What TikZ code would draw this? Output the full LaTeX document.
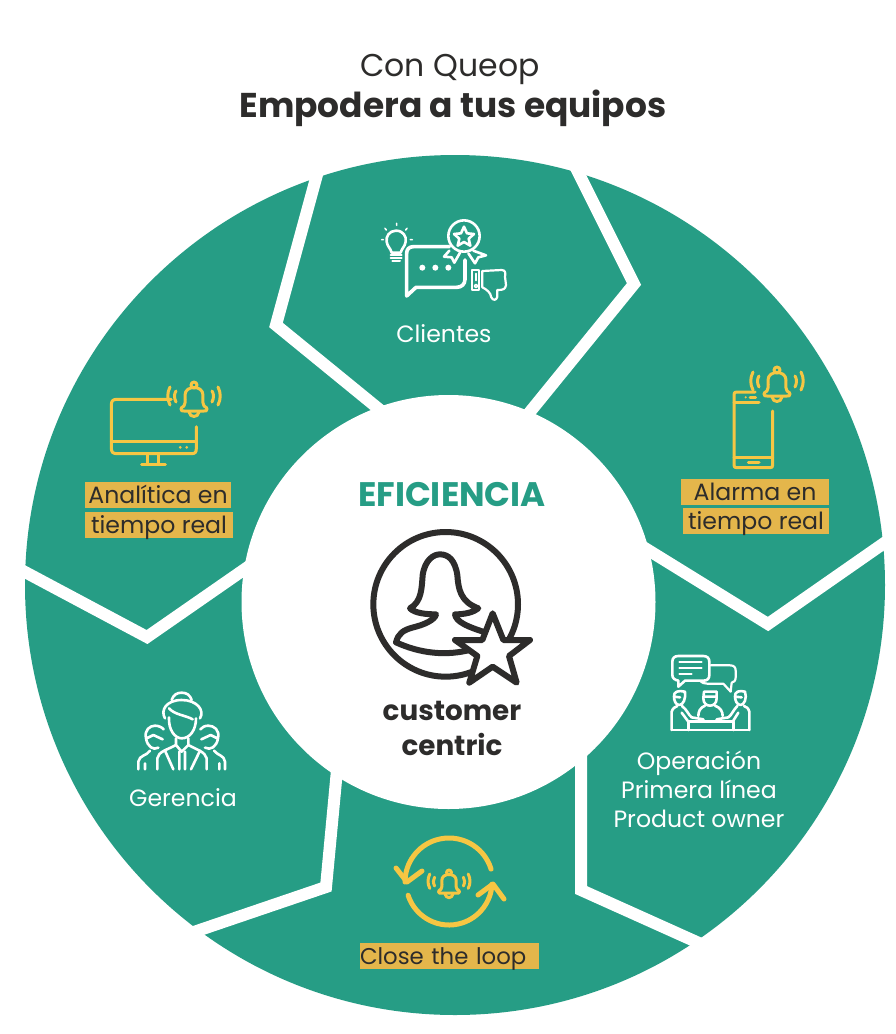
\documentclass[tikz,border=0pt]{standalone}
\usepackage{fontspec}
\setmainfont{Poppins}
\definecolor{verde}{HTML}{269D85}
\definecolor{amarillo}{HTML}{F6C643}
\definecolor{fondo}{HTML}{E4B64B}
\definecolor{oscuro}{HTML}{2D2C2B}
\tikzset{
  linea/.style={draw=white,line width=2.6pt,line cap=round,line join=round},
  lineaam/.style={draw=amarillo,line width=3pt,line cap=round,line join=round},
  divide/.style={draw=white,line width=12pt,line join=miter},
  blanco/.style={text=white,font=\fontsize{23.6}{29}\selectfont,align=center},
  alerta/.style={fill=fondo,text=oscuro,font=\fontsize{23.6}{24}\selectfont,inner sep=0pt,text height=21pt,text depth=5pt,anchor=north},
  pics/campana/.style={code={
    \draw[lineaam] (0,3) circle (3);
    \draw[lineaam] (-10,24) .. controls (-8,20) and (-9,15) .. (-9,13) .. controls (-9,3) and (9,3) .. (9,13) .. controls (9,15) and (8,20) .. (10,24);
    \draw[lineaam] (-10,24) .. controls (-12,25) and (-13,26) .. (-13,27) .. controls (-13,29) and (-12,29) .. (-10,29) -- (10,29) .. controls (12,29) and (13,29) .. (13,27) .. controls (13,26) and (12,25) .. (10,24);
    \draw[lineaam] (-5,30) .. controls (-4,36) and (4,36) .. (5,30);
    \draw[lineaam] (-18,9) .. controls (-20,12) and (-20,16) .. (-18,20);
    \draw[lineaam] (18,9) .. controls (20,12) and (20,16) .. (18,20);
    \draw[lineaam] (-24,5) .. controls (-27,11) and (-27,17) .. (-24,23);
    \draw[lineaam] (24,5) .. controls (27,11) and (27,17) .. (24,23);
  }}
}
\begin{document}
\begin{tikzpicture}[x=1pt,y=-1pt]
\useasboundingbox (0,0) rectangle (896,1034);
\fill[white] (0,0) rectangle (896,1034);
% disco
\fill[verde] (455,585) circle (430);
\draw[divide] (321,160)--(276,325)--(385,414);
\draw[divide] (572,160)--(634,284)--(525,418);
\draw[divide] (640,545)--(768,624)--(900,532);
\draw[divide] (10,564)--(147,637)--(255,562);
\draw[divide] (337,770)--(326,887)--(185,935);
\draw[divide] (581,750)--(581,890)--(710,948);
\fill[white] (448.5,602) circle (207);
% titulo
\node[text=oscuro,font=\fontsize{31.5}{36}\selectfont] (titulo) at (450,69) {Con Queop};
\node[text=oscuro,font=\fontsize{34.4}{40}\selectfont\bfseries] (lema) at (453,108) {Empodera a tus equipos};
% clientes
\begin{scope}[shift={(360,210)},scale=1/3]
  \draw[linea] (108,62) .. controls (130,62) and (140,80) .. (137,95) .. controls (135,110) and (125,115) .. (122,128) -- (95,128) .. controls (92,115) and (82,110) .. (80,95) .. controls (77,80) and (88,62) .. (108,62);
  \draw[linea,line width=2pt] (92,135)--(125,135) (92,143)--(125,143) (97,152)--(120,152);
  \draw[linea,line width=1.6pt] (110,40)--(110,46) (75,55)--(79,60) (141,55)--(137,60) (65,89)--(70,89) (151,89)--(157,89);
  \draw[linea,line width=3.6pt] (268,110)--(160,110) .. controls (147,110) and (140,118) .. (140,130)--(140,258)--(168,232)--(290,232) .. controls (305,232) and (315,222) .. (315,208)--(315,150);
  \fill[white] (187,173) circle (9) (226,173) circle (9) (265,173) circle (9);
  \draw[linea] (312,78) circle (47);
  \draw[linea] (312,50)--(321,70)--(342,72)--(326,86)--(331,107)--(312,96)--(293,107)--(298,86)--(282,72)--(303,70)--cycle;
  \draw[linea] (268,122)--(252,140)--(275,142)--(283,158)--(300,128);
  \draw[linea] (340,122)--(378,136)--(355,142)--(345,160)--(325,130);
  \draw[linea,line width=2pt] (337,180) rectangle (358,240);
  \draw[linea,line width=1.6pt] (348,228) circle (5) (348,190)--(348,212);
  \draw[linea,line width=2.2pt] (367,183)--(425,180) .. controls (437,180) and (437,190) .. (435,200) -- (438,225) .. controls (436,238) and (430,240) .. (412,240)--(412,260) .. controls (410,272) and (398,272) .. (394,262) .. controls (392,248) and (380,238) .. (367,232)--cycle;
\end{scope}
\node[blanco] (clientes) at (444,334) {Clientes};
% analitica
\begin{scope}[shift={(90,370)},scale=1/3]
  \draw[lineaam] (244,88)--(80,88) .. controls (69,88) and (64,93) .. (64,104)--(64,235) .. controls (64,246) and (69,251) .. (80,251)--(305,251) .. controls (316,251) and (319,246) .. (319,235)--(319,170);
  \draw[lineaam] (64,213)--(319,213);
  \fill[amarillo] (271,232) circle (4.5) (290,232) circle (4.5);
  \draw[lineaam] (172,252)--(172,282) (204,252)--(204,282) (155,283)--(226,283);
\end{scope}
\pic at (194,382) {campana};
\node[alerta,minimum width=146pt] (analitica) at (158,482) {Analítica en};
\node[alerta,minimum width=148pt] (analiticados) at (159,512) {tiempo real};
% alarma
\begin{scope}[shift={(710,355)},scale=1/3]
  \draw[lineaam] (135,111)--(80,111) .. controls (74,111) and (72,113) .. (72,119)--(72,330) .. controls (72,336) and (74,338) .. (80,338)--(180,338) .. controls (186,338) and (188,336) .. (188,330)--(188,168);
  \draw[lineaam] (72,143)--(147,143) (72,306)--(188,306) (115,321)--(147,321) (120,127)--(137,127);
  \fill[amarillo] (107,127) circle (3.5);
\end{scope}
\pic at (777,367) {campana};
\node[alerta,minimum width=148pt] (alarma) at (755,479) {Alarma en};
\node[alerta,minimum width=146pt] (alarmados) at (756,508) {tiempo real};
% centro
\node[text=verde,font=\fontsize{34}{40}\selectfont\bfseries] (eficiencia) at (452,495) {EFICIENCIA};
\begin{scope}[shift={(360,525)},scale=1/3]
  \draw[oscuro,line width=6pt] (257,238) circle (217);
  \draw[oscuro,line width=6pt,line join=round,fill=white] (108,352) .. controls (115,325) and (130,315) .. (160,307) .. controls (190,300) and (225,285) .. (228,268) .. controls (200,268) and (165,265) .. (150,250) .. controls (185,230) and (185,190) .. (188,150) .. controls (195,105) and (220,88) .. (240,88) .. controls (265,88) and (285,105) .. (292,150) .. controls (295,190) and (300,230) .. (355,250) .. controls (340,262) and (315,268) .. (285,268) .. controls (288,290) and (320,305) .. (385,325) -- (385,360) -- (340,372) .. controls (260,395) and (180,385) .. (108,352) -- cycle;
  \fill[white] (345,345) -- (410,330) -- (410,400) -- (345,400) -- cycle;
  \draw[oscuro,line width=6pt,line join=round,fill=white] (398,265)--(430,345)--(510,345)--(447,393)--(470,473)--(398,425)--(328,473)--(352,393)--(285,345)--(367,345)--cycle;
\end{scope}
\node[text=oscuro,font=\fontsize{27.8}{35}\selectfont\bfseries,align=center] (centrico) at (452,728) {customer\\centric};
% operacion
\begin{scope}[shift={(650,640)},scale=1/3]
  \draw[linea] (85,48)--(160,48) .. controls (172,48) and (178,55) .. (178,65)--(178,105) .. controls (178,116) and (172,122) .. (160,122)--(105,122)--(85,140)--(85,122) .. controls (75,120) and (67,115) .. (67,105)--(67,65) .. controls (67,55) and (73,48) .. (85,48);
  \draw[linea,line width=2pt] (88,67)--(155,67) (88,85)--(155,85) (88,103)--(125,103);
  \draw[linea,line width=2.2pt] (182,76)--(240,76) .. controls (252,76) and (257,82) .. (257,92)--(257,112) .. controls (257,122) and (252,127) .. (245,128)--(242,155)--(220,131)--(172,131) .. controls (162,131) and (155,128) .. (152,124);
  \begin{scope}[line width=2.4pt]
  \draw[linea] (72,170) .. controls (70,155) and (85,150) .. (105,155) .. controls (108,175) and (100,195) .. (88,195) .. controls (76,195) and (72,180) .. (72,170) (72,170)--(90,172);
  \draw[linea] (65,270)--(65,215) .. controls (68,205) and (75,200) .. (82,198) (96,198) .. controls (112,210) and (115,225) .. (125,232)--(160,238)--(160,245) (95,218)--(115,245);
  \draw[linea] (162,155)--(200,155)--(200,175) .. controls (200,190) and (190,197) .. (180,197) .. controls (170,197) and (160,190) .. (160,175)--cycle (160,170)--(200,170);
  \draw[linea] (165,197) .. controls (150,203) and (145,215) .. (145,228) (195,197) .. controls (212,203) and (218,215) .. (218,228);
  \draw[linea] (255,170) .. controls (253,155) and (268,150) .. (285,155) .. controls (292,175) and (282,195) .. (272,195) .. controls (260,195) and (255,180) .. (255,170) (255,170)--(275,172);
  \draw[linea] (298,270)--(298,215) .. controls (295,205) and (290,200) .. (282,198) (262,198) .. controls (250,210) and (245,225) .. (235,232)--(200,238)--(200,245) (265,218)--(248,245);
  \draw[linea] (65,270)--(298,270) (115,245)--(115,270) (250,245)--(250,270) (115,245)--(250,245);
  \end{scope}
\end{scope}
\node[blanco] (operacion) at (699,789) {Operación\\Primera línea\\Product owner};
% gerencia
\begin{scope}[shift={(120,680)},scale=1/3]
  \draw[linea] (155,60) .. controls (160,45) and (170,38) .. (185,38) .. controls (200,38) and (210,45) .. (215,60);
  \draw[linea] (135,115) .. controls (120,90) and (140,60) .. (185,60) .. controls (230,60) and (255,90) .. (240,115);
  \draw[linea] (147,85) .. controls (165,105) and (195,105) .. (218,118);
  \draw[linea] (147,112) .. controls (145,150) and (165,175) .. (185,175) .. controls (210,175) and (228,150) .. (228,115);
  \draw[linea] (168,175)--(168,195)--(185,215)--(205,195)--(205,175);
  \draw[linea] (112,268)--(112,235) .. controls (115,215) and (140,210) .. (168,195) (260,268)--(260,235) .. controls (255,215) and (232,210) .. (205,195);
  \draw[linea] (135,212)--(160,268) (240,212)--(213,268) (178,215)--(178,268) (195,215)--(195,268);
  \draw[linea] (78,175) .. controls (72,150) and (90,137) .. (105,137) .. controls (116,137) and (126,142) .. (131,148) (78,175) .. controls (82,200) and (100,212) .. (115,203) (80,175)--(100,165)--(128,178);
  \draw[linea] (294,175) .. controls (300,150) and (282,137) .. (265,137) .. controls (254,137) and (246,142) .. (241,148) (294,175) .. controls (290,200) and (272,212) .. (255,203) (292,175)--(272,165)--(244,178);
  \draw[linea] (55,268)--(55,245) .. controls (58,225) and (80,228) .. (90,212) (315,268)--(315,245) .. controls (312,225) and (295,228) .. (282,212) (75,250)--(75,268) (298,250)--(298,268);
\end{scope}
\node[blanco] (gerencia) at (183,798) {Gerencia};
% bucle
\begin{scope}[amarillo,line width=5pt,line cap=round,line join=round]
  \draw (449,882) ++(-17:44) arc[start angle=-17,end angle=-180,radius=44];
  \draw (396,868)--(407,882)--(422,871);
  \draw (449,882) ++(162:43) arc[start angle=162,end angle=3,radius=43];
  \draw (478,895)--(493,884)--(504,899);
\end{scope}
\pic[scale=.8] at (449,870) {campana};
\node[alerta,text width=179pt,align=left,font=\fontsize{22.8}{24}\selectfont] (bucle) at (449.5,943) {Close the loop};
\end{tikzpicture}
\end{document}
